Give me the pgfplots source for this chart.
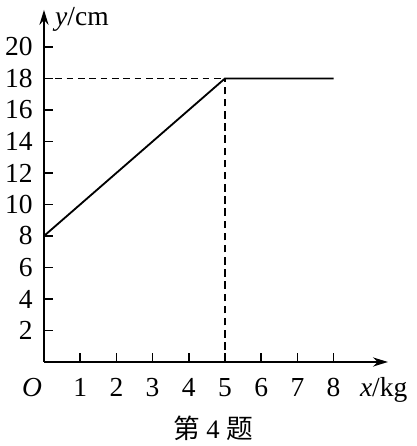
\documentclass[border=0pt]{standalone}
\usepackage{fontspec}
\setmainfont{Liberation Serif}
\newfontfamily\cjk{Noto Sans CJK SC}
\usepackage{pgfplots}
\pgfplotsset{compat=1.18}
\usetikzlibrary{arrows.meta}
\begin{document}
\begin{tikzpicture}
\begin{axis}[
  x=21.72pt, y=9.45pt,
  xmin=0, xmax=9.5, ymin=0, ymax=22.35,
  axis lines=left,
  axis line style={line width=0.9pt, -{Stealth[length=9pt,width=5.5pt]}},
  xtick={1,2,3,4,5,6,7,8},
  ytick={2,4,...,20},
  tick align=inside,
  major tick length=5.5pt,
  tick style={black, line width=1pt},
  clip mode=individual,
  xticklabel={\fontsize{16.5}{18}\selectfont\pgfmathprintnumber[assume math mode=true]{\tick}},
  yticklabel={\fontsize{16.5}{18}\selectfont\pgfmathprintnumber[assume math mode=true]{\tick}},
  xticklabel style={anchor=base, yshift=-21pt, inner sep=0pt},
  yticklabel style={anchor=east, inner sep=0pt, xshift=-6.6pt},
]
\addplot[line width=1.1pt, black] coordinates {(0,8) (5,18) (8,18)};
\addplot[line width=0.9pt, black, dash pattern=on 4pt off 2.8pt] coordinates {(0,18) (5,18)};
\addplot[line width=0.9pt, black, dash pattern=on 4.5pt off 2.8pt] coordinates {(5,0) (5,18)};
\node[anchor=base, inner sep=0pt, font=\fontsize{16.5}{18}\selectfont\itshape] at (axis cs:-0.33,0) [yshift=-21pt] {O};
\node[anchor=base west, inner sep=0pt, font=\fontsize{16.5}{18}\selectfont] at (axis cs:8.72,0) [yshift=-21pt] {\textit{x}/kg};
\node[anchor=base west, inner sep=0pt, font=\fontsize{16.5}{18}\selectfont] at (axis cs:0.30,21.33) {\textit{y}/cm};
\node[anchor=base, inner sep=0pt, font=\fontsize{16}{18}\selectfont] at (axis cs:4.67,-4.83) {{\cjk 第}\ 4\ {\cjk 题}};
\path (axis cs:-1.215,-5.333) rectangle (axis cs:10.30,22.98);
\end{axis}
\end{tikzpicture}
\end{document}
